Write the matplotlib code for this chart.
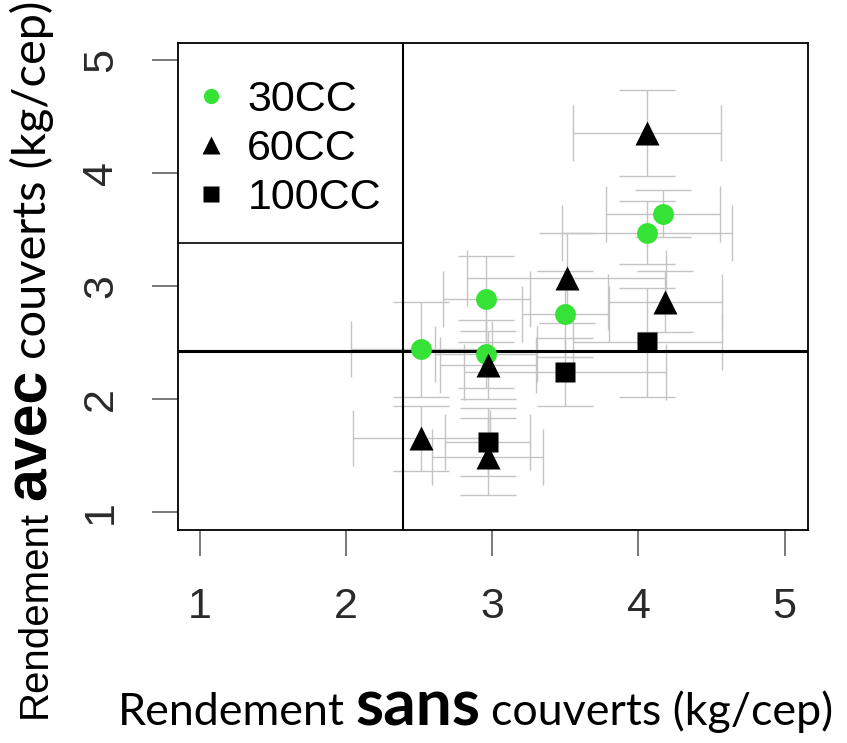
import matplotlib
matplotlib.use("Agg")
import matplotlib.pyplot as plt
from matplotlib.lines import Line2D

# 30CC, 60CC, 100CC : rendement sans / avec couverts (kg/cep) with error bars
x_30 = [2.515, 2.96, 2.955, 3.50, 4.06, 4.17]
y_30 = [2.44, 2.885, 2.40, 2.75, 3.47, 3.64]
xerr_30 = [0.48, 0.30, 0.35, 0.30, 0.58, 0.39]
yerr_30 = [0.42, 0.38, 0.30, 0.38, 0.28, 0.21]

x_60 = [2.515, 2.97, 2.97, 3.51, 4.06, 4.18]
y_60 = [1.65, 2.30, 1.49, 3.07, 4.35, 2.86]
xerr_60 = [0.47, 0.33, 0.38, 0.68, 0.505, 0.39]
yerr_60 = [0.29, 0.30, 0.34, 0.40, 0.38, 0.27]

x_100 = [2.97, 3.50, 4.06]
y_100 = [1.62, 2.24, 2.50]
xerr_100 = [0.29, 0.69, 0.51]
yerr_100 = [0.30, 0.30, 0.48]

mean_sans = 2.39
mean_avec = 2.42
legend_bottom = 3.38

ticks = [1, 2, 3, 4, 5]
labels = ["30CC", "60CC", "100CC"]

W, H = 847, 743
XLIM = (0.85, 5.16)
YLIM = (0.84, 5.15)
GREEN = "#35e235"


def place_pieces(fig, pieces, start, fixed, scale=1.0, vertical=False):
    """pieces: (text, family, size, weight); start/fixed in pixels from top-left."""
    renderer = fig.canvas.get_renderer()
    pos = start
    made = []
    base = min(p[2] for p in pieces) * scale
    for i, (text, family, size, weight) in enumerate(pieces):
        size = size * scale
        if vertical:
            t = fig.text(fixed / W, 1 - pos / H, text, rotation=90,
                         rotation_mode="anchor", ha="left", va="baseline",
                         family=family, fontsize=size, fontweight=weight)
            ext = t.get_window_extent(renderer).height
            pos -= ext
        else:
            t = fig.text(pos / W, 1 - fixed / H, text, ha="left", va="baseline",
                         family=family, fontsize=size, fontweight=weight)
            ext = t.get_window_extent(renderer).width
            pos += ext
        made.append(t)
        if i < len(pieces) - 1:
            gap = 0.24 * base * fig.dpi / 72
            pos = pos - gap if vertical else pos + gap
    return made, abs(pos - start)


def mixed_label(fig, pieces, start, fixed, length, vertical=False):
    made, total = place_pieces(fig, pieces, start, fixed, 1.0, vertical)
    for t in made:
        t.remove()
    place_pieces(fig, pieces, start, fixed, length / total, vertical)


def main():
    fig = plt.figure(figsize=(W / 100, H / 100), dpi=100)
    ax = fig.add_axes([178 / W, 1 - 530 / H, 630 / W, 487 / H])

    err_style = dict(fmt="none", ecolor="#c4c4c4", elinewidth=1.0,
                     capsize=20, capthick=1.0, zorder=1)
    ax.errorbar(x_30, y_30, xerr=xerr_30, yerr=yerr_30, **err_style)
    ax.errorbar(x_60, y_60, xerr=xerr_60, yerr=yerr_60, **err_style)
    ax.errorbar(x_100, y_100, xerr=xerr_100, yerr=yerr_100, **err_style)

    ax.axvline(mean_sans, color="black", lw=1.5, zorder=2)
    ax.axhline(mean_avec, color="black", lw=2.2, zorder=2)
    ax.axhline(legend_bottom, xmin=0, xmax=(mean_sans - XLIM[0]) / (XLIM[1] - XLIM[0]),
               color="black", lw=1.2, zorder=2)

    ax.plot(x_30, y_30, "o", color=GREEN, ms=15, mec="none", zorder=3)
    ax.plot(x_60, y_60, "^", color="black", ms=17, mec="none", zorder=3)
    ax.plot(x_100, y_100, "s", color="black", ms=14, mec="none", zorder=3)

    ax.set_xlim(XLIM)
    ax.set_ylim(YLIM)
    ax.set_xticks(ticks)
    ax.set_yticks(ticks)
    ax.set_xticklabels([str(t) for t in ticks], family="Liberation Sans")
    ax.set_yticklabels([str(t) for t in ticks], family="Liberation Sans",
                       rotation=90, va="center")
    ax.tick_params(length=19, width=1.1, color="#555555", labelsize=31,
                   labelcolor="#2a2a2a")
    ax.tick_params(axis="x", pad=22)
    ax.tick_params(axis="y", pad=22)
    for sp in ax.spines.values():
        sp.set_linewidth(1.3)

    handles = [
        Line2D([], [], marker="o", color=GREEN, ls="none", ms=11, mec="none"),
        Line2D([], [], marker="^", color="black", ls="none", ms=13, mec="none"),
        Line2D([], [], marker="s", color="black", ls="none", ms=11, mec="none"),
    ]
    ax.legend(handles, labels, loc="upper left", bbox_to_anchor=(-0.03, 0.985),
              frameon=False, prop={"family": "Liberation Sans", "size": 31},
              handlelength=1.0, handletextpad=0.35, labelspacing=0.2,
              borderaxespad=0.3)

    fig.canvas.draw()
    mixed_label(fig, [("Rendement", "Lato", 30, "normal"),
                      ("sans", "Lato", 43, "bold"),
                      ("couverts (kg/cep)", "Lato", 30, "normal")],
                start=118, fixed=725, length=715)
    mixed_label(fig, [("Rendement", "Liberation Sans", 30, "normal"),
                      ("avec", "Liberation Sans", 44, "bold"),
                      ("couverts (kg/cep)", "Lato", 35, "normal")],
                start=718, fixed=46, length=716, vertical=True)

    fig.savefig("out.png", dpi=100)
    plt.close(fig)


if __name__ == "__main__":
    main()
